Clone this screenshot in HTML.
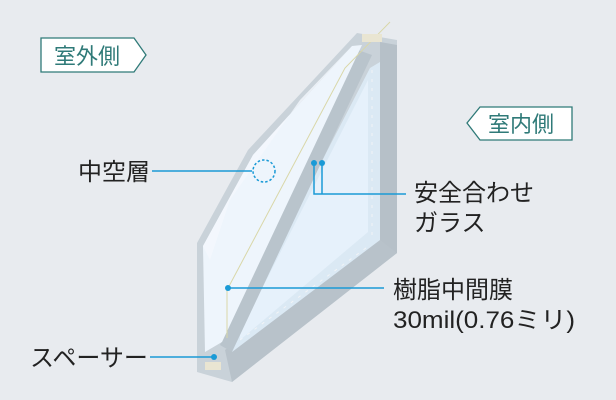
<!DOCTYPE html>
<html><head><meta charset="utf-8"><style>
html,body{margin:0;padding:0;background:#e8ebef;}
svg{display:block;}
text{font-family:"Liberation Sans","Noto Sans CJK JP",sans-serif;}
</style></head><body>
<svg width="616" height="400" viewBox="0 0 616 400" xmlns="http://www.w3.org/2000/svg">
<rect width="616" height="400" fill="#e8ebef"/>
<polygon points="197,243 248,150 357,33 397,40 397,253 232,382 197,372" fill="#c9d2d9"/>
<polygon points="380,42 397,45 397,253 380,262" fill="#b6c0c8"/>
<polygon points="225,350 380,240 397,253 232,382" fill="#b8c2ca"/>
<polygon points="232,335 370,68 380,62 380,240 232,352" fill="#dbe9f4"/>
<polygon points="240,332 368,80 368,232 240,340" fill="#e6f1fb"/>
<polygon points="220,345 358,50 372,55 232,352" fill="#b9c4cc"/>
<polygon points="203,246 253,155 352,46 362,45 222,342 205,352" fill="#eef5fc"/>
<polygon points="203,246 253,155 352,46 300,100 230,200 210,260" fill="#f4f8fd" opacity="0.8"/>
<polyline points="227,338 227,290 345,68 390,22" fill="none" stroke="#d9d7a8" stroke-width="1"/>
<rect x="205" y="362" width="16" height="8" fill="#e9e5d2"/>
<rect x="362" y="34" width="20" height="8" fill="#e9e5d2"/>
<line x1="372" y1="70" x2="372" y2="240" stroke="#f2f4f6" stroke-width="1" stroke-dasharray="3,6"/>
<line x1="240" y1="340" x2="370" y2="245" stroke="#f2f4f6" stroke-width="1" stroke-dasharray="3,6"/>

<g stroke="#1a9ad6" stroke-width="1.5" fill="none">
<line x1="152" y1="171" x2="252" y2="171"/>
<circle cx="264" cy="171" r="11" stroke-dasharray="2.5,2"/>
<polyline points="314,163 314,194 406,194"/>
<line x1="322" y1="163" x2="322" y2="194"/>
<line x1="228" y1="288" x2="384" y2="288"/>
<line x1="150" y1="357" x2="214" y2="357"/>
</g>
<g fill="#1a9ad6">
<circle cx="314" cy="163" r="3"/><circle cx="322" cy="163" r="3"/>
<circle cx="228" cy="288" r="3"/><circle cx="214" cy="357" r="3"/>
</g>

<polygon points="41,38 134,38 146,55 134,72 41,72" fill="#fff" stroke="#2f7a78" stroke-width="1.3"/>
<text x="54" y="64" font-size="22" fill="#2f7a78">室外側</text>
<polygon points="480,107 572,107 572,140 480,140 467,123" fill="#fff" stroke="#2f7a78" stroke-width="1.3"/>
<text x="488" y="132" font-size="22" fill="#2f7a78">室内側</text>

<g font-size="24" fill="#222">
<text x="78" y="180">中空層</text>
<text x="414" y="201">安全合わせ</text>
<text x="414" y="231">ガラス</text>
<text x="393" y="298">樹脂中間膜</text>
<text x="393" y="328" textLength="182" lengthAdjust="spacingAndGlyphs">30mil(0.76ミリ)</text>
<text x="30" y="366">スペーサー</text>
</g>
</svg>
</body></html>
